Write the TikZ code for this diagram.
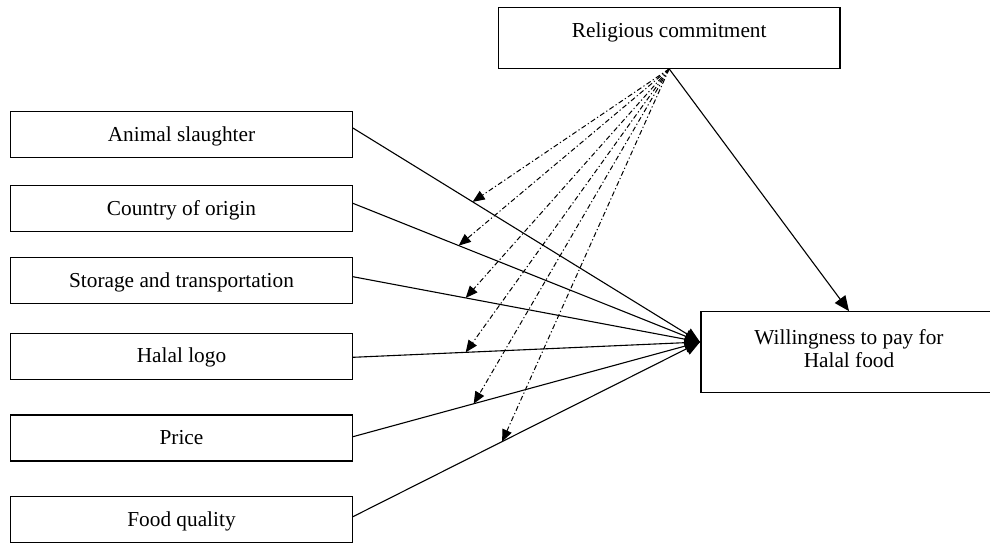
\documentclass[tikz,border=0pt]{standalone}
\usepackage{fontspec}
\setmainfont{Liberation Serif}
\usetikzlibrary{arrows.meta}

\begin{document}
\begin{tikzpicture}[x=1pt,y=-1pt,font=\fontsize{21.3}{22.7}\selectfont,
  box/.style={draw,line width=1.2pt,minimum width=341.6pt,
    minimum height=46pt,inner sep=0pt},
  single/.style={text height=15pt,text depth=2pt},
  link/.style={line width=1.1pt,-{Triangle[length=15pt,width=13pt]}},
  moderate/.style={line width=1pt,
    dash pattern=on 5pt off 2.5pt on 1.2pt off 2.5pt,
    -{Triangle[length=12pt,width=10pt]}}]
  \useasboundingbox (0,0) rectangle (990,542);

  \node[box,minimum height=61pt,text height=15pt,text depth=16pt]
    (rc) at (669.2,37.8) {Religious commitment};
  \node[box,minimum width=296pt,minimum height=81pt,align=center]
    (wp) at (849,352.2) {Willingness to pay for\\Halal food\strut};
  \coordinate (hub) at (700,342);

  \foreach \name/\yy/\txt in {as/134.7/Animal slaughter,
      co/208.7/Country of origin,st/280.5/Storage and transportation,
      hl/356.3/Halal logo,pr/438/Price,fq/519.7/Food quality}
    \node[box,single] (\name) at (181.5,\yy) {\txt};

  \foreach \name/\dy/\pos in {as/6.7/0.345,co/5.4/0.305,st/3.8/0.325,
      hl/-1/0.325,pr/1.3/0.348,fq/3/0.43}{
    \draw[link] ([yshift=\dy pt]\name.east) -- (hub)
      coordinate[pos=\pos] (m-\name);
    \draw[moderate] (rc.south) -- (m-\name);
  }
  \draw[link] (rc.south) -- (wp.north);
\end{tikzpicture}
\end{document}
